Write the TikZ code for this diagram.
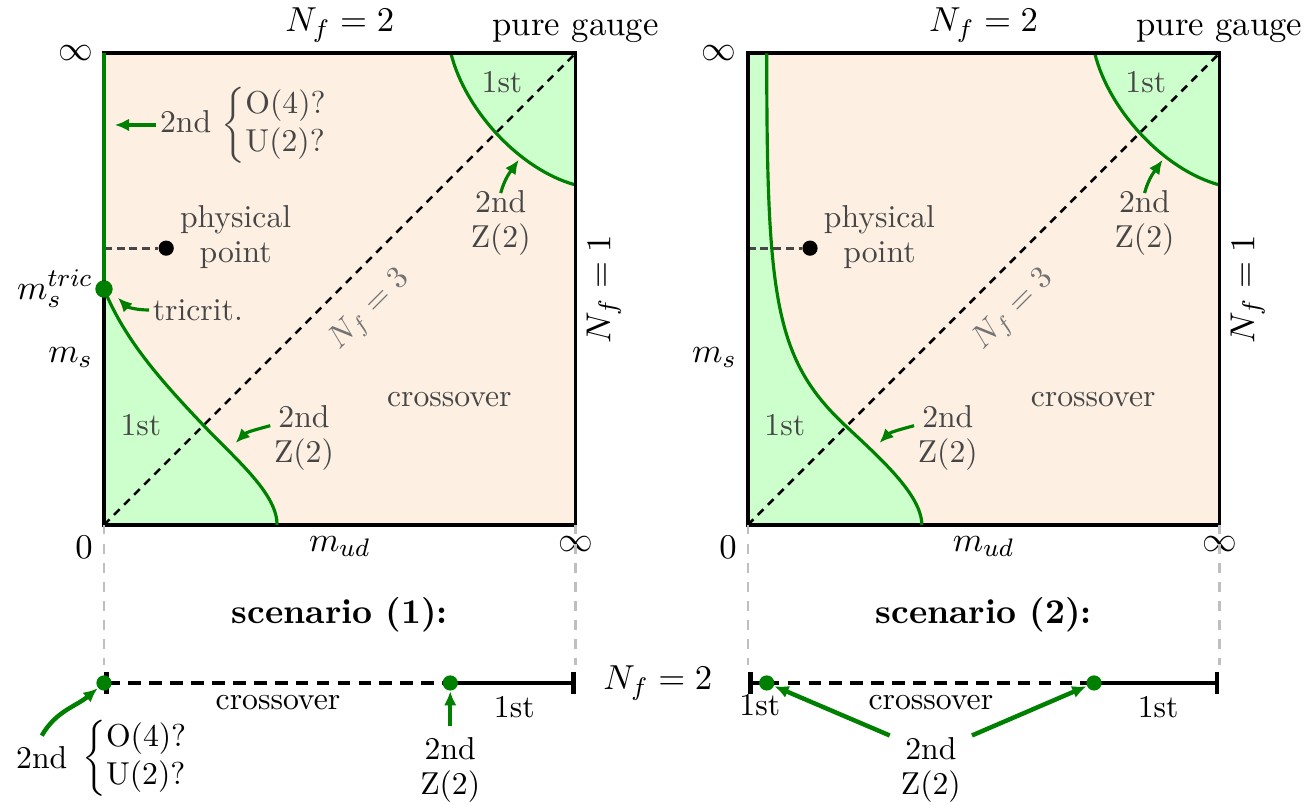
\documentclass[tikz,border=0pt]{standalone}
\usepackage{amsmath}
\usetikzlibrary{arrows.meta,calc}
\definecolor{phgreen}{RGB}{0,128,0}
\definecolor{phlight}{RGB}{204,255,204}
\definecolor{phpeach}{RGB}{253,240,227}
\definecolor{phtext}{RGB}{70,70,70}
\newcommand{\bS}{5.23}
\newcommand{\lineY}{-1.752}
\tikzset{
  phframe/.style ={draw=black,line width=1.2pt},
  gline/.style   ={phgreen,line width=1pt},
  gedge/.style   ={gline,-{Latex[length=4.5pt,width=4pt]}},
  bedge/.style   ={gedge,line width=1.4pt},
  fgdot/.style   ={circle,draw=none,fill,inner sep=0pt,minimum size=4.8pt},
  gdot/.style    ={fgdot,fill=phgreen},
  kdot/.style    ={fgdot,fill=black},
  diag/.style    ={line width=0.8pt,dash pattern=on 2.5pt off 2pt},
  pdash/.style   ={phtext,line width=0.9pt,dash pattern=on 2.5pt off 1.5pt},
  vdash/.style   ={black!25,line width=0.7pt,dash pattern=on 3pt off 3pt},
  kline/.style   ={line width=1.5pt},
  kdash/.style   ={kline,dash pattern=on 4pt off 2.6pt},
  inlab/.style   ={text=phtext,font=\fontsize{10}{11}\selectfont,align=center,inner sep=1pt},
  outlab/.style  ={font=\fontsize{10.95}{13}\selectfont},
  botlab/.style  ={font=\fontsize{10}{11}\selectfont,align=center},
}
\pgfdeclarelayer{bg}
\pgfsetlayers{bg,main}
\newcommand{\brq}{$\left\{\def\arraystretch{1.1}\begin{array}{@{}l@{}}\text{O(4)?}\\\text{U(2)?}\end{array}\right.$}
\newcommand{\arcB}{(3.848,\bS) .. controls (4.003,4.602) and (4.613,3.937) .. (\bS,3.771)}
\newcommand{\lowA}{(0,2.617) .. controls (0.233,2.052) and (0.621,1.608) .. (1.153,1.054) .. controls (1.508,0.688) and (1.92,0.333) .. (1.92,0)}
\newcommand{\lowB}{(0.21,\bS) .. controls (0.21,2.495) and (0.299,1.83) .. (1.098,1.087) .. controls (1.464,0.743) and (1.93,0.333) .. (1.93,0)}
\newcommand{\phbox}[2]{%
  \begin{pgfonlayer}{bg}
    \fill[phpeach] (0,0) rectangle (\bS,\bS);
    \fill[phlight] \arcB -- (\bS,\bS) -- cycle;
  \end{pgfonlayer}
  \draw[gline] \arcB;
  \draw[diag] (0,0) -- (\bS,\bS);
  \draw[phframe] (0,0) rectangle (\bS,\bS);
  \node[outlab,above] (#1nf) at (\bS/2,\bS) {$N_f = 2$};
  \node[outlab,above] (#1pg) at (\bS,\bS) {pure gauge};
  \node[outlab,left] (#1inf) at (0,\bS) {$\infty$};
  \node[outlab,below] (#1ine) at (\bS,0) {$\infty$};
  \node[outlab,below left] (#1zero) at (0,0) {$0$};
  \node[outlab,below] (#1mud) at (\bS/2,0) {$m_{ud}$};
  \node[outlab,left] (#1ms) at (0,1.86) {$m_s$};
  \node[outlab,rotate=90,anchor=north] (#1nfo) at (\bS,\bS/2) {$N_f = 1$};
  \coordinate (#1ppa) at (0,3.07);
  \node[kdot] (#1pp) at (0.69,3.07) {};
  \draw[pdash] (#1ppa) -- (#1pp);
  \node[inlab] (#1ppl) at (1.46,3.19) {physical\\point};
  \node[inlab,rotate=45,text=black!55] (#1nft) at (2.95,2.38) {$N_f = 3$};
  \node[inlab] (#1cr) at (3.83,1.386) {crossover};
  \node[inlab] (#1fa) at (4.414,4.913) {1st};
  \node[inlab] (#1fb) at (0.41,1.11) {1st};
  \node[inlab] (#1za) at (4.40,3.35) {2nd\\Z(2)};
  \coordinate (#1zae) at (4.6,4.05);
  \draw[gedge] ([yshift=-2pt]#1za.north) to[out=75,in=235] (#1zae);
  \node[inlab] (#1zb) at (2.218,0.965) {2nd\\Z(2)};
  \coordinate (#1zbe) at (1.46,0.91);
  \draw[gedge] (#1zb.160) to[out=195,in=45] (#1zbe);
  \coordinate (#1c0) at (0,0);   \coordinate (#1v0) at (0,-1.55);
  \coordinate (#1c1) at (\bS,0); \coordinate (#1v1) at (\bS,-1.55);
  \draw[vdash] (#1c0) -- (#1v0);
  \draw[vdash] (#1c1) -- (#1v1);
  \node[outlab,font=\fontsize{10.95}{13}\selectfont\bfseries] (#1sc) at (\bS/2,-1.0) {scenario #2:};
  \coordinate (#1bl) at (0,\lineY);
  \coordinate (#1bb) at (3.84,\lineY);
  \coordinate (#1br) at (\bS,\lineY);
  \draw[kline,-{Bar[width=7pt]}] (#1bb) -- (#1br);
  \node[botlab] (#1bf) at (4.55,-2.018) {1st};
}

\begin{document}
\begin{tikzpicture}
  \useasboundingbox (-1.153,-3.105) rectangle (13.297,5.822);
  % scenario (1)
  \begin{scope}
    \phbox{L}{(1)}
    \begin{pgfonlayer}{bg}
      \fill[phlight] \lowA -- (0,0) -- cycle;
    \end{pgfonlayer}
    \draw[gline] \lowA;
    \coordinate (Ltop) at (0,\bS);
    \node[gdot,minimum size=5.5pt] (Ltc) at (0,2.617) {};
    \draw[gline,line width=1.3pt] (Ltop) -- (Ltc);
    \node[outlab,left] (Ltcl) at (0,2.617) {$m_s^{tric}$};
    \node[inlab,anchor=west] (Ltr) at (0.5,2.384) {tricrit.};
    \coordinate (Ltre) at (0.155,2.52);
    \draw[gedge] (Ltr.west) to[out=180,in=-45] (Ltre);
    \node[inlab,anchor=west] (Ltwo) at (0.58,4.436) {2nd \brq};
    \coordinate (Ltwoe) at (0.12,4.436);
    \draw[gedge] (Ltwo.west) -- (Ltwoe);
    \draw[kdash,{Bar[width=7pt]}-] (Lbl) -- (Lbb);
    \node[gdot] (Lbad) at (Lbl) {};
    \node[gdot] (Lbbd) at (Lbb) {};
    \node[botlab] (Lbcr) at (1.93,-1.974) {crossover};
    \node[botlab] (Lbz) at (3.84,-2.717) {2nd\\Z(2)};
    \draw[bedge] (Lbz.north) -- (Lbbd);
    \node[botlab] (Lbtwo) at (-0.69,-2.584) {2nd};
    \node[botlab,right,inner sep=1pt] (Lbbr) at (Lbtwo.east) {\brq};
    \draw[bedge] (Lbtwo.north) to[out=60,in=220] (Lbad);
  \end{scope}
  % scenario (2)
  \begin{scope}[xshift=7.14cm]
    \phbox{R}{(2)}
    \begin{pgfonlayer}{bg}
      \fill[phlight] \lowB -- (0,0) -- (0,\bS) -- cycle;
    \end{pgfonlayer}
    \draw[gline] \lowB;
    \draw[phframe] (0,0) -- (0,\bS);
    \coordinate (Rba) at (0.21,\lineY);
    \draw[kline,{Bar[width=7pt]}-] (Rbl) -- (Rba);
    \draw[kdash] (Rba) -- (Rbb);
    \node[gdot] (Rbad) at (Rba) {};
    \node[gdot] (Rbbd) at (Rbb) {};
    \node[outlab,anchor=east] (Rnf) at (-0.27,\lineY) {$N_f = 2$};
    \node[botlab] (Rbfl) at (0.133,-1.996) {1st};
    \node[botlab] (Rbcr) at (2.03,-1.974) {crossover};
    \node[botlab] (Rbz) at (2.03,-2.717) {2nd\\Z(2)};
    \draw[bedge] (Rbz.140) -- (Rbad);
    \draw[bedge] (Rbz.40) -- (Rbbd);
  \end{scope}
\end{tikzpicture}
\end{document}
